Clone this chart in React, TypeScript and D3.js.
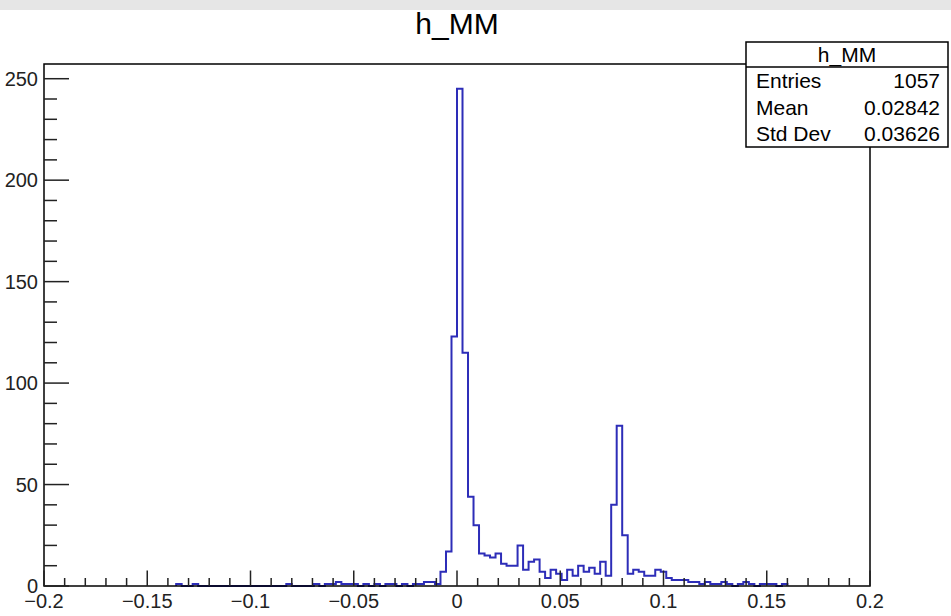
import React from "react";
import * as d3 from "d3";

// Histogram definition: 150 bins on [-0.2, 0.2]
const xRange: [number, number] = [-0.2, 0.2];
const counts: number[] = [
  0, 0, 0, 0, 0, 0, 0, 0, 0, 0, // 0-9
  0, 0, 0, 0, 0, 0, 0, 0, 0, 0, // 10-19
  0, 0, 0, 0, 1, 0, 0, 1, 0, 0, // 20-29
  0, 0, 0, 0, 0, 0, 0, 0, 0, 0, // 30-39
  0, 0, 0, 0, 1, 0, 0, 0, 0, 1, // 40-49
  0, 1, 1, 2, 1, 1, 1, 0, 1, 0, // 50-59
  1, 0, 1, 1, 0, 1, 0, 1, 1, 2, // 60-69
  2, 1, 7, 17, 123, 245, 115, 44, 30, 16, // 70-79
  15, 14, 16, 11, 10, 10, 20, 8, 12, 13, // 80-89
  7, 4, 8, 6, 3, 8, 5, 10, 7, 9, // 90-99
  6, 12, 5, 40, 79, 25, 6, 8, 7, 5, // 100-109
  5, 8, 7, 4, 3, 3, 3, 2, 2, 1, // 110-119
  2, 1, 1, 2, 1, 0, 1, 2, 1, 0, // 120-129
  1, 1, 1, 0, 1, 0, 0, 0, 0, 0, // 130-139
  0, 0, 0, 0, 0, 0, 0, 0, 0, 0, // 140-149
];

const xMajorTicks = [-0.2, -0.15, -0.1, -0.05, 0, 0.05, 0.1, 0.15, 0.2];
const xTickLabels = ["\u22120.2", "\u22120.15", "\u22120.1", "\u22120.05", "0", "0.05", "0.1", "0.15", "0.2"];
const yMajorTicks = [0, 50, 100, 150, 200, 250];
const yTickLabels = ["0", "50", "100", "150", "200", "250"];

const title = "h_MM";
const statsLabels = ["Entries", "Mean", "Std Dev"];
const statsValues = ["1057", "0.02842", "0.03626"];

const W = 951;
const H = 616;
const FONT = "'Liberation Sans', Arial, Helvetica, sans-serif";
const BLUE = "#2d2db8";

export default function App() {
  const frame = { left: 44, right: 870, top: 64, bottom: 586 };
  const nBins = counts.length;
  const binW = (xRange[1] - xRange[0]) / nBins;
  const yMax = 1.05 * (d3.max(counts) as number);

  const x = d3.scaleLinear().domain(xRange).range([frame.left, frame.right]);
  const y = d3.scaleLinear().domain([0, yMax]).range([frame.bottom, frame.top]);

  const first = counts.findIndex((c) => c > 0);
  let last = nBins - 1;
  while (last > 0 && counts[last] === 0) last--;

  const pts: [number, number][] = [];
  pts.push([xRange[0] + first * binW, 0]);
  for (let i = first; i <= last; i++) {
    const x0 = xRange[0] + i * binW;
    pts.push([x0, counts[i]]);
    pts.push([x0 + binW, counts[i]]);
  }
  pts.push([xRange[0] + (last + 1) * binW, 0]);

  const line = d3
    .line<[number, number]>()
    .x((d) => x(d[0]))
    .y((d) => y(d[1]));

  const xMinor = d3.range(-20, 21).map((k) => k / 100);
  const yMinor = d3.range(0, 251, 10);

  const majorLenX = 15.5;
  const minorLenX = 8;
  const majorLenY = 25;
  const minorLenY = 13;

  const stats = { left: 746, right: 948, top: 42, header: 67, bottom: 147 };
  const rowH = (stats.bottom - stats.header) / statsLabels.length;
  const labelSize = 20;
  const statSize = 21;

  return (
    <svg
      width={W}
      height={H}
      style={{ position: "absolute", left: 0, top: 0, background: "#fff" }}
      fontFamily={FONT}
    >
      <rect x={0} y={0} width={W} height={H} fill="#fff" />
      <rect x={0} y={0} width={W} height={10} fill="#e6e6e6" />

      {/* title */}
      <text x={457} y={34} fontSize={30} textAnchor="middle" fill="#000">
        {title}
      </text>

      {/* histogram */}
      <path d={line(pts) || ""} fill="none" stroke={BLUE} strokeWidth={2} />

      {/* frame */}
      <rect
        x={frame.left}
        y={frame.top}
        width={frame.right - frame.left}
        height={frame.bottom - frame.top}
        fill="none"
        stroke="#000"
        strokeWidth={1.5}
      />

      {/* x ticks */}
      {xMinor.map((v, i) => {
        const major = i % 5 === 0;
        return (
          <line
            key={"xm" + i}
            x1={x(v)}
            x2={x(v)}
            y1={frame.bottom}
            y2={frame.bottom - (major ? majorLenX : minorLenX)}
            stroke="#222"
            strokeWidth={1.5}
          />
        );
      })}
      {xMajorTicks.map((v, i) => (
        <text
          key={"xl" + i}
          x={x(v)}
          y={608}
          fontSize={labelSize}
          textAnchor="middle"
          fill="#222"
        >
          {xTickLabels[i]}
        </text>
      ))}

      {/* y ticks */}
      {yMinor.map((v, i) => {
        const major = v % 50 === 0;
        return (
          <line
            key={"ym" + i}
            x1={frame.left}
            x2={frame.left + (major ? majorLenY : minorLenY)}
            y1={y(v)}
            y2={y(v)}
            stroke="#222"
            strokeWidth={1.5}
          />
        );
      })}
      {yMajorTicks.map((v, i) => (
        <text
          key={"yl" + i}
          x={38}
          y={y(v) + 7}
          fontSize={labelSize}
          textAnchor="end"
          fill="#222"
        >
          {yTickLabels[i]}
        </text>
      ))}

      {/* stats box */}
      <rect
        x={stats.left}
        y={stats.top}
        width={stats.right - stats.left}
        height={stats.bottom - stats.top}
        fill="#fff"
        stroke="#000"
        strokeWidth={1.5}
      />
      <line
        x1={stats.left}
        x2={stats.right}
        y1={stats.header}
        y2={stats.header}
        stroke="#000"
        strokeWidth={1.5}
      />
      <text
        x={(stats.left + stats.right) / 2}
        y={(stats.top + stats.header) / 2 + 7}
        fontSize={statSize}
        textAnchor="middle"
        fill="#000"
      >
        {title}
      </text>
      {statsLabels.map((lab, i) => (
        <g key={"st" + i}>
          <text
            x={stats.left + 10}
            y={stats.header + rowH * (i + 0.5) + 7.5}
            fontSize={statSize}
            fill="#000"
          >
            {lab}
          </text>
          <text
            x={stats.right - 8}
            y={stats.header + rowH * (i + 0.5) + 7.5}
            fontSize={statSize}
            textAnchor="end"
            fill="#000"
          >
            {statsValues[i]}
          </text>
        </g>
      ))}
    </svg>
  );
}
